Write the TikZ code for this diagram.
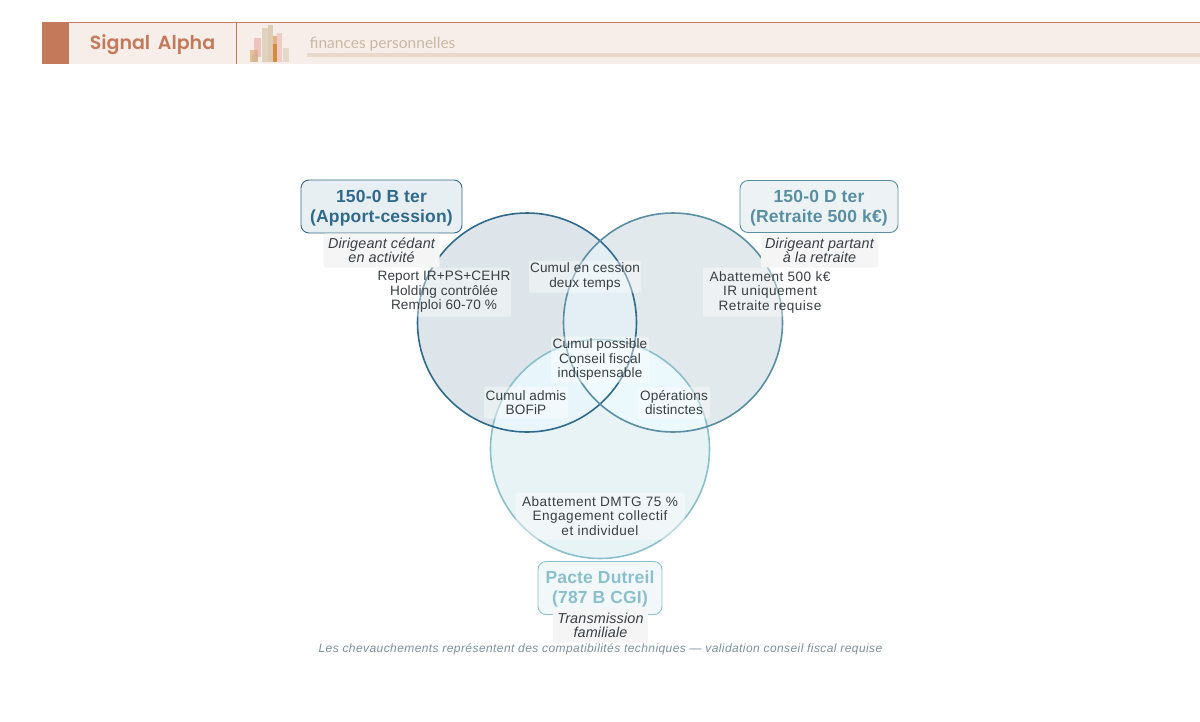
\documentclass[tikz,border=0pt]{standalone}
\usepackage{fontspec}
\setmainfont{Liberation Sans}[LetterSpace=1]
\newfontfamily\logofont{Poppins}[BoldFont={Poppins SemiBold}]
\newfontfamily\subfont{Lato}
\definecolor{headbg}{HTML}{F7EEE9}
\definecolor{brick}{HTML}{C47A5A}
\definecolor{sandbar}{HTML}{E8D9CC}
\definecolor{sandtext}{HTML}{C9B8A4}
\definecolor{bartan}{HTML}{C8B08C}
\definecolor{barpink}{HTML}{E49A94}
\definecolor{barorange}{HTML}{D07A20}
\definecolor{blueA}{HTML}{2F6A8C}
\definecolor{blueB}{HTML}{5A8FA3}
\definecolor{blueC}{HTML}{8BBFCC}
\definecolor{inktext}{HTML}{3A3F44}
\definecolor{notetext}{HTML}{7A909E}
\definecolor{zoneA}{HTML}{DDE5EA}
\definecolor{zoneB}{HTML}{E2E9EC}
\definecolor{zoneC}{HTML}{E8F3F6}
\definecolor{zoneAB}{HTML}{E3EFF5}
\definecolor{zoneAC}{HTML}{E8F6FB}
\definecolor{zoneBC}{HTML}{EBF8FC}
\definecolor{zoneABC}{HTML}{EEFAFD}
\newcommand{\ttlstrut}{\rule{0pt}{15pt}}
\tikzset{
  title/.style={draw=#1,text=#1,fill=#1!12,fill opacity=.9,text opacity=1,rounded corners=8pt,line width=.9pt,
    align=center,inner sep=0pt,font=\fontsize{17.5}{20}\selectfont\bfseries},
  sublabel/.style={fill=black!4,rounded corners=2pt,align=center,inner sep=0pt,text=inktext,
    font=\fontsize{14.4}{14.5}\selectfont\itshape},
  zonelabel/.style={fill=white,fill opacity=.4,text opacity=1,rounded corners=2pt,align=center,inner sep=0pt,text=inktext,
    font=\fontsize{13.6}{14.5}\selectfont},
  widelabel/.style={zonelabel,font=\fontsize{13.6}{14.5}\selectfont\addfontfeature{LetterSpace=3.5}},
  ring/.style={draw=#1,line width=1.6pt}
}
\begin{document}
\begin{tikzpicture}[x=1pt,y=-1pt]
\useasboundingbox (0,0) rectangle (1200,721);

% header
\fill [headbg] (42,22) rectangle (1200,64);
\fill [sandbar] (307,53) rectangle (1200,57);
\draw [brick,line width=.8pt] (42,22) -- (1200,22);
\fill [brick] (42,22) rectangle (69,64);
\draw [brick,line width=.8pt] (236.5,22) -- (236.5,64);
\foreach \xa/\ya/\xb/\yb/\barcol/\baralpha in {250/50/258/62/barorange/.4,254/38/261/57/barpink/.5,262/28/268/62/bartan/.45,
    268/25/273/62/bartan/.55,273/36/277/62/barorange/.5,277/33/282/62/barpink/.4,
    283/48/289/62/bartan/.35,252/54/258/62/bartan/.5,273/44/277/62/barorange/.7}
  \fill [\barcol,opacity=\baralpha] (\xa,\ya) rectangle (\xb,\yb);
\node (brand) at (152.5,45) {\logofont\fontsize{19}{22}\selectfont\bfseries\color{brick}Signal\, Alpha};
\node [anchor=west,inner sep=0pt] (theme) at (309.5,44) {\subfont\fontsize{15.5}{17}\selectfont\color{sandtext}finances personnelles};

% zones
\def\circA{(527,322.5) circle (109.5)}
\def\circB{(673,322.5) circle (109.5)}
\def\circC{(600,449) circle (109.5)}
\fill [zoneA] \circA;
\fill [zoneB] \circB;
\fill [zoneC] \circC;
\begin{scope}
  \clip \circA;
  \fill [zoneAB] \circB;
  \fill [zoneAC] \circC;
\end{scope}
\begin{scope}
  \clip \circB;
  \fill [zoneBC] \circC;
  \clip \circA;
  \fill [zoneABC] \circC;
\end{scope}
\draw [ring=blueC] \circC;
\draw [ring=blueA] \circA;
\draw [ring=blueB] \circB;

% titles
\node [title=blueA,minimum width=161,minimum height=53] (ttlA) at (381.5,206.5) {\ttlstrut 150-0 B ter\\(Apport-cession)};
\node [title=blueB,minimum width=158,minimum height=52] (ttlB) at (819,206.5) {\ttlstrut 150-0 D ter\\(Retraite 500 k€)};
\node [title=blueC,minimum width=124,minimum height=53] (ttlC) at (600,588) {\ttlstrut Pacte Dutreil\\(787 B CGI)};

% captions
\node [sublabel,minimum width=116,minimum height=34] (capA) at (381.5,250.5) {Dirigeant cédant\\en activité};
\node [sublabel,minimum width=117,minimum height=34] (capB) at (819.5,250.5) {Dirigeant partant\\à la retraite};
\node [sublabel,minimum width=95,minimum height=34] (capC) at (600.5,625.5) {Transmission\\familiale};

% zone texts
\node [zonelabel,minimum width=134,minimum height=49] (lblA) at (444,292) {Report IR+PS+CEHR\\Holding contrôlée\\Remploi 60-70 \%};
\node [widelabel,minimum width=134,minimum height=49] (lblB) at (770,292) {Abattement 500 k€\\IR uniquement\\Retraite requise};
\node [widelabel,minimum width=169,minimum height=47] (lblC) at (600,516) {Abattement DMTG 75 \%\\Engagement collectif\\et individuel};
\node [zonelabel,minimum width=112,minimum height=32] (lblAB) at (585,276.5) {Cumul en cession\\deux temps};
\node [zonelabel,minimum width=84,minimum height=32] (lblAC) at (526,402.5) {Cumul admis\\BOFiP};
\node [zonelabel,minimum width=72,minimum height=32] (lblBC) at (674,402.5) {Opérations\\distinctes};
\node [zonelabel,minimum width=98,minimum height=46] (lblABC) at (600,359.5) {Cumul possible\\Conseil fiscal\\indispensable};

% note
\node [inner sep=0pt,text=notetext] (note) at (600.5,649) {\fontsize{12}{14}\selectfont\itshape\addfontfeature{LetterSpace=3.5}Les chevauchements représentent des compatibilités techniques — validation conseil fiscal requise};
\end{tikzpicture}
\end{document}
